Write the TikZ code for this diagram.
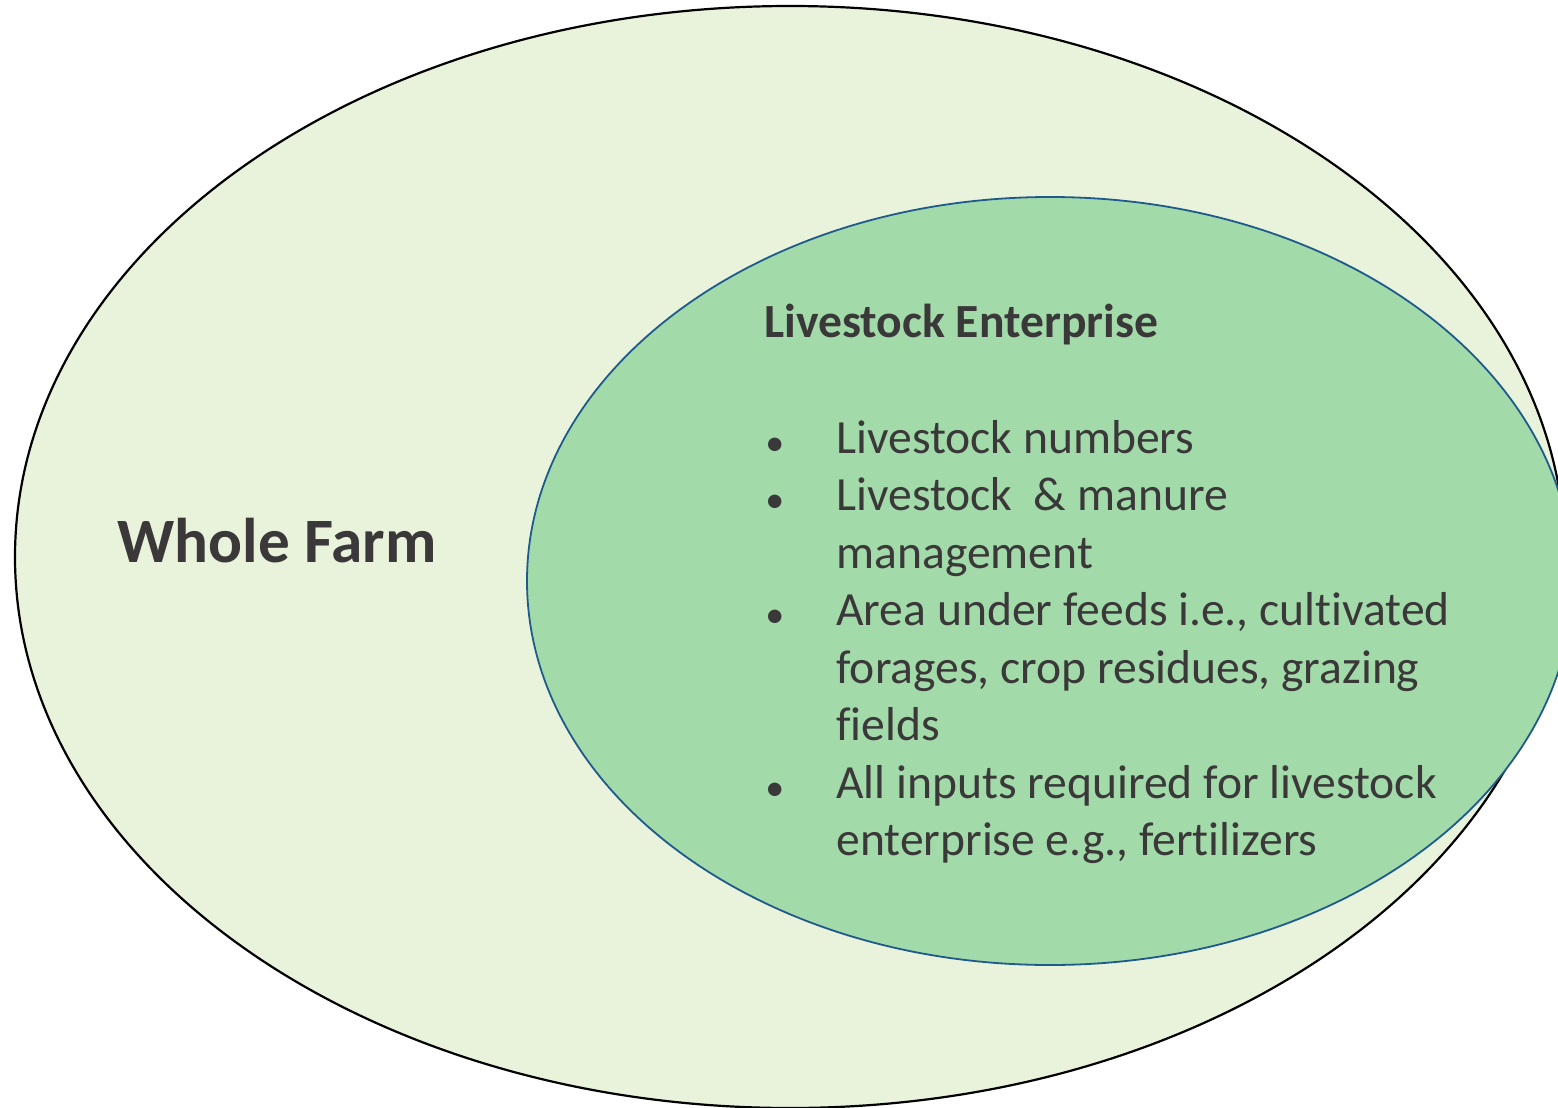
\documentclass[tikz,border=0pt]{standalone}
\usepackage{fontspec}
\setmainfont{Carlito}[Ligatures={NoCommon}]
\usetikzlibrary{shapes.geometric,positioning}
\definecolor{farmfill}{HTML}{E9F3DB}
\definecolor{entfill}{HTML}{A3DAAA}
\definecolor{entline}{HTML}{1F5A8C}
\definecolor{txtgray}{HTML}{3A3838}
\tikzset{
farm/.style = {draw=black, fill=farmfill, ellipse, line width=1.1pt, inner sep=0pt, minimum width=775pt, minimum height=551pt},
enterprise/.style = {draw=entline, fill=entfill, ellipse, line width=0.9pt, inner sep=0pt, minimum width=523pt, minimum height=384pt},
bigtitle/.style = {font=\fontsize{31.6}{38}\selectfont\bfseries, text=txtgray, inner sep=0pt, anchor=base west},
subtitle/.style = {font=\fontsize{23.8}{28.75}\selectfont\bfseries, text=txtgray, inner sep=0pt, anchor=base west},
itemtext/.style = {font=\fontsize{23.8}{28.75}\selectfont, text=txtgray, inner sep=0pt, anchor=base west},
bullet/.style = {font=\fontsize{19}{28.75}\selectfont, text=txtgray, inner sep=0pt, anchor=base west, yshift=-1pt}
}
\begin{document}
\begin{tikzpicture}[x=0.5pt, y=-0.5pt]
  \clip (0,0) rectangle (1558,1108);
  % the two ellipses
  \node[farm] (wholefarm) at (790,557) {};
  \node[enterprise] (livestock) at (1050,581) {};
  % labels
  \node[bigtitle] (farmlabel) at (117,562) {Whole Farm};
  \node[subtitle] (entlabel) at (764,337) {Livestock Enterprise};
  % bullets
  \node[bullet] (b1) at (765,453) {•};
  \node[bullet] (b2) at (765,510.5) {•};
  \node[bullet] (b3) at (765,625.5) {•};
  \node[bullet] (b4) at (765,798) {•};
  % item lines
  \node[itemtext] (i1) at (836,453) {Livestock numbers};
  \node[itemtext] (i2a) at (836,510.5) {Livestock\ \ \& manure};
  \node[itemtext] (i2b) at (836,568) {management};
  \node[itemtext] (i3a) at (836,625.5) {Area under feeds i.e., cultivated};
  \node[itemtext] (i3b) at (836,683) {forages, crop residues, grazing};
  \node[itemtext] (i3c) at (836,740.5) {fields};
  \node[itemtext] (i4a) at (836,798) {All inputs required for livestock};
  \node[itemtext] (i4b) at (836,855.5) {enterprise e.g., fertilizers};
\end{tikzpicture}
\end{document}
